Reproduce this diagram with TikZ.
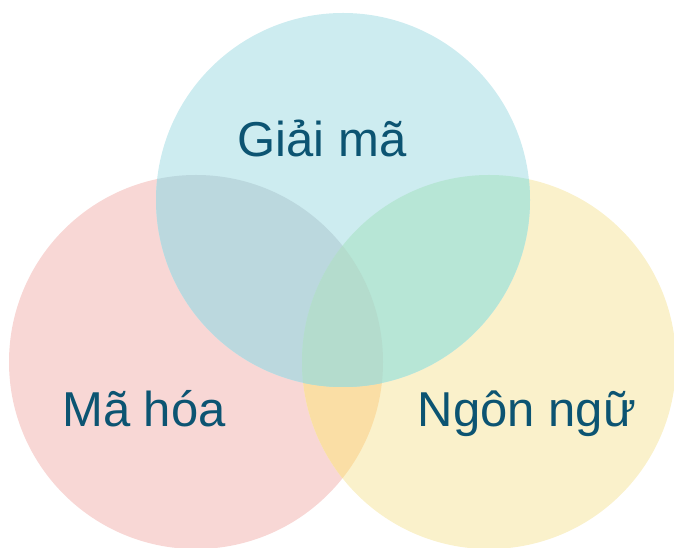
\documentclass[tikz,border=0pt]{standalone}
\usepackage{fontspec}
\setmainfont{Liberation Sans}
\definecolor{pinkc}{RGB}{248,215,213}
\definecolor{cyanc}{RGB}{205,236,240}
\definecolor{yelc}{RGB}{250,241,203}
\definecolor{lrc}{RGB}{250,222,165}
\definecolor{tlc}{RGB}{187,216,222}
\definecolor{trc}{RGB}{183,230,214}
\definecolor{midc}{RGB}{180,220,205}
\definecolor{textc}{RGB}{12,84,114}
\begin{document}
\begin{tikzpicture}[x=1pt,y=1pt,
    lbl/.style={anchor=base,text=textc,font=\fontsize{49}{55}\selectfont}]
\useasboundingbox (0,0) rectangle (674,548);
\clip (0,0) rectangle (674,548);

    \fill[pinkc] (196,186) circle(187);
    \fill[yelc] (489,186) circle(187);
    \fill[cyanc] (343,348) circle(187);
% overlaps
\begin{scope}
    \clip (196,186) circle(187);
    \fill[lrc] (489,186) circle(187);
    \fill[tlc] (343,348) circle(187);
\end{scope}
\begin{scope}
    \clip (489,186) circle(187);
    \fill[trc] (343,348) circle(187);
    \clip (196,186) circle(187);
    \fill[midc] (343,348) circle(187);
\end{scope}

\node (giaima) at (322,391)[lbl]{Giải mã};
\node (mahoa) at (144,121)[lbl]{Mã hóa};
\node (ngonngu) at (527,121)[lbl]{Ngôn ngữ};

\end{tikzpicture}
\end{document}
